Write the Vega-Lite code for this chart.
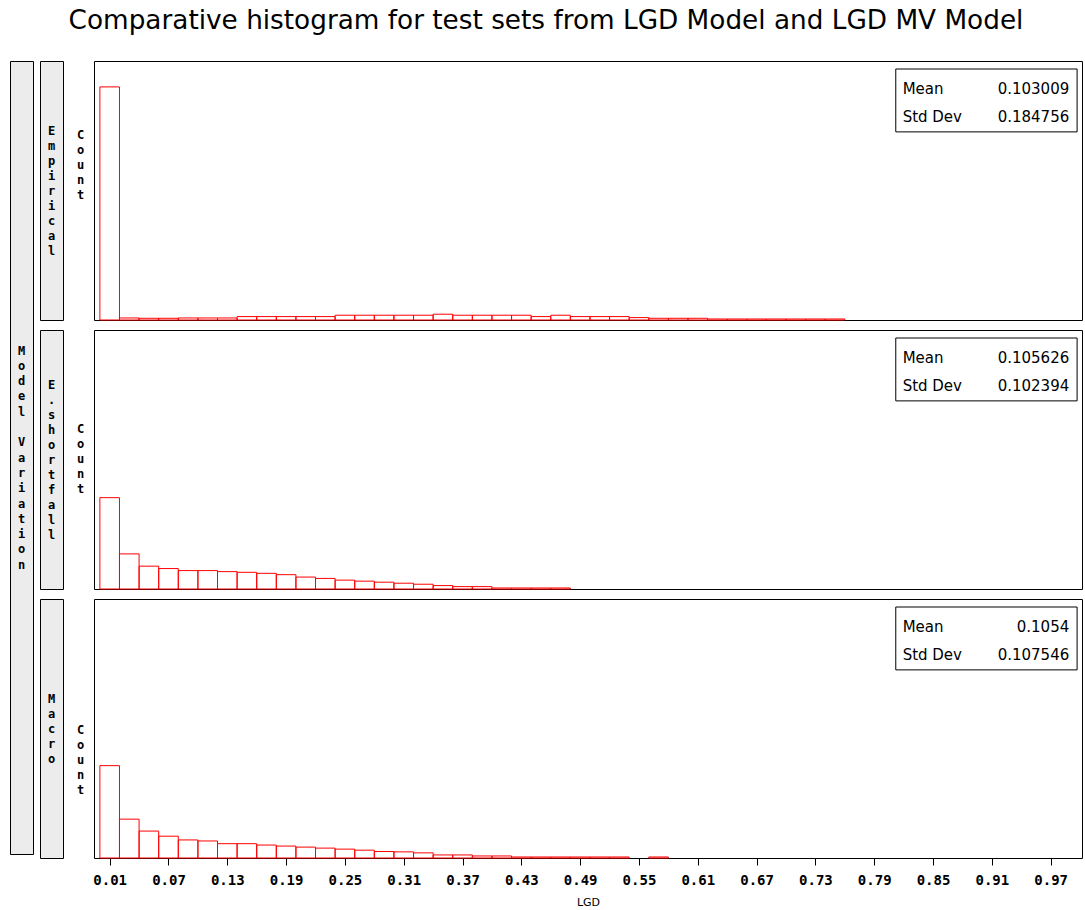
{
  "$schema": "https://vega.github.io/schema/vega-lite/v6.json",
  "padding": {"left": 9, "top": 8, "right": 0, "bottom": 0},
  "background": "white",
  "title": {"text": "Comparative histogram for test sets from LGD Model and LGD MV Model", "font": "DejaVu Sans", "fontSize": 26.3, "fontWeight": "normal", "color": "#000", "anchor": "middle", "offset": 26},
  "datasets": {
    "stats": [
      {"model": "Empirical", "mean": "0.103009", "sd": "0.184756"},
      {"model": "E.shortfall", "mean": "0.105626", "sd": "0.102394"},
      {"model": "Macro", "mean": "0.1054", "sd": "0.107546"}
    ],
    "outer": [{"label": "Model Variation"}],
    "hist": [
      {"model": "Empirical", "lo": 0.00, "hi": 0.02, "pct": 68.4},
      {"model": "Empirical", "lo": 0.02, "hi": 0.04, "pct": 0.6},
      {"model": "Empirical", "lo": 0.04, "hi": 0.06, "pct": 0.5},
      {"model": "Empirical", "lo": 0.06, "hi": 0.08, "pct": 0.5},
      {"model": "Empirical", "lo": 0.08, "hi": 0.10, "pct": 0.6},
      {"model": "Empirical", "lo": 0.10, "hi": 0.12, "pct": 0.6},
      {"model": "Empirical", "lo": 0.12, "hi": 0.14, "pct": 0.6},
      {"model": "Empirical", "lo": 0.14, "hi": 0.16, "pct": 1.0},
      {"model": "Empirical", "lo": 0.16, "hi": 0.18, "pct": 1.0},
      {"model": "Empirical", "lo": 0.18, "hi": 0.20, "pct": 1.0},
      {"model": "Empirical", "lo": 0.20, "hi": 0.22, "pct": 1.0},
      {"model": "Empirical", "lo": 0.22, "hi": 0.24, "pct": 1.0},
      {"model": "Empirical", "lo": 0.24, "hi": 0.26, "pct": 1.4},
      {"model": "Empirical", "lo": 0.26, "hi": 0.28, "pct": 1.4},
      {"model": "Empirical", "lo": 0.28, "hi": 0.30, "pct": 1.4},
      {"model": "Empirical", "lo": 0.30, "hi": 0.32, "pct": 1.4},
      {"model": "Empirical", "lo": 0.32, "hi": 0.34, "pct": 1.4},
      {"model": "Empirical", "lo": 0.34, "hi": 0.36, "pct": 1.7},
      {"model": "Empirical", "lo": 0.36, "hi": 0.38, "pct": 1.4},
      {"model": "Empirical", "lo": 0.38, "hi": 0.40, "pct": 1.4},
      {"model": "Empirical", "lo": 0.40, "hi": 0.42, "pct": 1.4},
      {"model": "Empirical", "lo": 0.42, "hi": 0.44, "pct": 1.4},
      {"model": "Empirical", "lo": 0.44, "hi": 0.46, "pct": 1.0},
      {"model": "Empirical", "lo": 0.46, "hi": 0.48, "pct": 1.4},
      {"model": "Empirical", "lo": 0.48, "hi": 0.50, "pct": 1.0},
      {"model": "Empirical", "lo": 0.50, "hi": 0.52, "pct": 1.0},
      {"model": "Empirical", "lo": 0.52, "hi": 0.54, "pct": 1.0},
      {"model": "Empirical", "lo": 0.54, "hi": 0.56, "pct": 0.7},
      {"model": "Empirical", "lo": 0.56, "hi": 0.58, "pct": 0.5},
      {"model": "Empirical", "lo": 0.58, "hi": 0.60, "pct": 0.5},
      {"model": "Empirical", "lo": 0.60, "hi": 0.62, "pct": 0.5},
      {"model": "Empirical", "lo": 0.62, "hi": 0.64, "pct": 0.3},
      {"model": "Empirical", "lo": 0.64, "hi": 0.66, "pct": 0.3},
      {"model": "Empirical", "lo": 0.66, "hi": 0.68, "pct": 0.3},
      {"model": "Empirical", "lo": 0.68, "hi": 0.70, "pct": 0.3},
      {"model": "Empirical", "lo": 0.70, "hi": 0.72, "pct": 0.3},
      {"model": "Empirical", "lo": 0.72, "hi": 0.74, "pct": 0.3},
      {"model": "Empirical", "lo": 0.74, "hi": 0.76, "pct": 0.3},
      {"model": "E.shortfall", "lo": 0.00, "hi": 0.02, "pct": 26.8},
      {"model": "E.shortfall", "lo": 0.02, "hi": 0.04, "pct": 10.3},
      {"model": "E.shortfall", "lo": 0.04, "hi": 0.06, "pct": 6.7},
      {"model": "E.shortfall", "lo": 0.06, "hi": 0.08, "pct": 6.0},
      {"model": "E.shortfall", "lo": 0.08, "hi": 0.10, "pct": 5.4},
      {"model": "E.shortfall", "lo": 0.10, "hi": 0.12, "pct": 5.4},
      {"model": "E.shortfall", "lo": 0.12, "hi": 0.14, "pct": 5.1},
      {"model": "E.shortfall", "lo": 0.14, "hi": 0.16, "pct": 4.9},
      {"model": "E.shortfall", "lo": 0.16, "hi": 0.18, "pct": 4.6},
      {"model": "E.shortfall", "lo": 0.18, "hi": 0.20, "pct": 4.2},
      {"model": "E.shortfall", "lo": 0.20, "hi": 0.22, "pct": 3.5},
      {"model": "E.shortfall", "lo": 0.22, "hi": 0.24, "pct": 3.1},
      {"model": "E.shortfall", "lo": 0.24, "hi": 0.26, "pct": 2.6},
      {"model": "E.shortfall", "lo": 0.26, "hi": 0.28, "pct": 2.3},
      {"model": "E.shortfall", "lo": 0.28, "hi": 0.30, "pct": 2.0},
      {"model": "E.shortfall", "lo": 0.30, "hi": 0.32, "pct": 1.7},
      {"model": "E.shortfall", "lo": 0.32, "hi": 0.34, "pct": 1.4},
      {"model": "E.shortfall", "lo": 0.34, "hi": 0.36, "pct": 1.0},
      {"model": "E.shortfall", "lo": 0.36, "hi": 0.38, "pct": 0.7},
      {"model": "E.shortfall", "lo": 0.38, "hi": 0.40, "pct": 0.7},
      {"model": "E.shortfall", "lo": 0.40, "hi": 0.42, "pct": 0.3},
      {"model": "E.shortfall", "lo": 0.42, "hi": 0.44, "pct": 0.3},
      {"model": "E.shortfall", "lo": 0.44, "hi": 0.46, "pct": 0.3},
      {"model": "E.shortfall", "lo": 0.46, "hi": 0.48, "pct": 0.3},
      {"model": "Macro", "lo": 0.00, "hi": 0.02, "pct": 27.1},
      {"model": "Macro", "lo": 0.02, "hi": 0.04, "pct": 11.4},
      {"model": "Macro", "lo": 0.04, "hi": 0.06, "pct": 7.9},
      {"model": "Macro", "lo": 0.06, "hi": 0.08, "pct": 6.4},
      {"model": "Macro", "lo": 0.08, "hi": 0.10, "pct": 5.3},
      {"model": "Macro", "lo": 0.10, "hi": 0.12, "pct": 5.0},
      {"model": "Macro", "lo": 0.12, "hi": 0.14, "pct": 4.2},
      {"model": "Macro", "lo": 0.14, "hi": 0.16, "pct": 4.2},
      {"model": "Macro", "lo": 0.16, "hi": 0.18, "pct": 3.8},
      {"model": "Macro", "lo": 0.18, "hi": 0.20, "pct": 3.5},
      {"model": "Macro", "lo": 0.20, "hi": 0.22, "pct": 3.2},
      {"model": "Macro", "lo": 0.22, "hi": 0.24, "pct": 2.9},
      {"model": "Macro", "lo": 0.24, "hi": 0.26, "pct": 2.6},
      {"model": "Macro", "lo": 0.26, "hi": 0.28, "pct": 2.3},
      {"model": "Macro", "lo": 0.28, "hi": 0.30, "pct": 1.9},
      {"model": "Macro", "lo": 0.30, "hi": 0.32, "pct": 1.8},
      {"model": "Macro", "lo": 0.32, "hi": 0.34, "pct": 1.5},
      {"model": "Macro", "lo": 0.34, "hi": 0.36, "pct": 0.9},
      {"model": "Macro", "lo": 0.36, "hi": 0.38, "pct": 0.9},
      {"model": "Macro", "lo": 0.38, "hi": 0.40, "pct": 0.6},
      {"model": "Macro", "lo": 0.40, "hi": 0.42, "pct": 0.6},
      {"model": "Macro", "lo": 0.42, "hi": 0.44, "pct": 0.3},
      {"model": "Macro", "lo": 0.44, "hi": 0.46, "pct": 0.3},
      {"model": "Macro", "lo": 0.46, "hi": 0.48, "pct": 0.3},
      {"model": "Macro", "lo": 0.48, "hi": 0.50, "pct": 0.3},
      {"model": "Macro", "lo": 0.50, "hi": 0.52, "pct": 0.3},
      {"model": "Macro", "lo": 0.52, "hi": 0.54, "pct": 0.3},
      {"model": "Macro", "lo": 0.56, "hi": 0.58, "pct": 0.3}
    ]
  },
  "spacing": 5,
  "hconcat": [
    {
      "width": 23, "height": 793,
      "view": {"fill": "#ececec", "stroke": "#000", "strokeWidth": 1},
      "data": {"name": "outer"},
      "transform": [{"calculate": "split(replace(datum.label, ' ', '\u200b'), '')", "as": "letters"}],
      "mark": {"type": "text", "font": "DejaVu Sans Mono", "fontWeight": "bold", "fontSize": 12, "lineHeight": 15.3, "align": "center", "baseline": "middle", "dy": -107, "color": "#000"},
      "encoding": {"text": {"field": "letters", "type": "nominal"}}
    },
    {
      "spacing": 8,
      "vconcat": [
        {
          "bounds": "flush", "spacing": 31,
          "hconcat": [
            {
              "width": 23, "height": 259,
              "view": {"fill": "#ececec", "stroke": "#000", "strokeWidth": 1},
              "data": {"name": "stats"},
              "transform": [{"filter": "datum.model == 'Empirical'"}, {"calculate": "split(datum.model, '')", "as": "letters"}],
              "mark": {"type": "text", "font": "DejaVu Sans Mono", "fontWeight": "bold", "fontSize": 12, "lineHeight": 15, "align": "center", "baseline": "middle", "dy": -60, "color": "#000"},
              "encoding": {"text": {"field": "letters", "type": "nominal"}}
            },
            {
              "width": 988, "height": 259,
              "layer": [
                {
                  "data": {"name": "hist"},
                  "transform": [{"filter": "datum.model == 'Empirical'"}],
                  "mark": {"type": "rect", "fill": "transparent", "stroke": "#ff0000", "strokeWidth": 1},
                  "encoding": {
                    "x": {"field": "lo", "type": "quantitative", "scale": {"domain": [-0.006, 1.002], "nice": false, "zero": false}, "axis": null},
                    "x2": {"field": "hi"},
                    "y": {"field": "pct", "type": "quantitative", "scale": {"domain": [0, 76], "nice": false}, "axis": {"title": ["C", "o", "u", "n", "t"], "titleAngle": 0, "titleAlign": "center", "titleBaseline": "middle", "titleX": -14, "titleY": 73, "titleFont": "DejaVu Sans Mono", "titleFontWeight": "bold", "titleFontSize": 12, "titleLineHeight": 15, "titleColor": "#000", "labels": false, "ticks": false, "domain": false, "grid": false}},
                    "y2": {"datum": 0}
                  }
                },
                {
                  "data": {"name": "stats"},
                  "transform": [{"filter": "datum.model == 'Empirical'"}],
                  "mark": {"type": "rect", "fill": "white", "stroke": "#000", "strokeWidth": 1},
                  "encoding": {"x": {"datum": 0.812}, "x2": {"datum": 0.997}, "y": {"datum": 73.65}, "y2": {"datum": 55.2}}
                },
                {
                  "data": {"name": "stats"},
                  "transform": [{"filter": "datum.model == 'Empirical'"}],
                  "mark": {"type": "text", "font": "DejaVu Sans", "fontSize": 15, "align": "left", "baseline": "middle", "color": "#000"},
                  "encoding": {"x": {"datum": 0.819}, "y": {"datum": 67.8}, "text": {"value": "Mean"}}
                },
                {
                  "data": {"name": "stats"},
                  "transform": [{"filter": "datum.model == 'Empirical'"}],
                  "mark": {"type": "text", "font": "DejaVu Sans", "fontSize": 15, "align": "right", "baseline": "middle", "color": "#000"},
                  "encoding": {"x": {"datum": 0.989}, "y": {"datum": 67.8}, "text": {"field": "mean", "type": "nominal"}}
                },
                {
                  "data": {"name": "stats"},
                  "transform": [{"filter": "datum.model == 'Empirical'"}],
                  "mark": {"type": "text", "font": "DejaVu Sans", "fontSize": 15, "align": "left", "baseline": "middle", "color": "#000"},
                  "encoding": {"x": {"datum": 0.819}, "y": {"datum": 59.6}, "text": {"value": "Std Dev"}}
                },
                {
                  "data": {"name": "stats"},
                  "transform": [{"filter": "datum.model == 'Empirical'"}],
                  "mark": {"type": "text", "font": "DejaVu Sans", "fontSize": 15, "align": "right", "baseline": "middle", "color": "#000"},
                  "encoding": {"x": {"datum": 0.989}, "y": {"datum": 59.6}, "text": {"field": "sd", "type": "nominal"}}
                }
              ]
            }
          ]
        },
        {
          "bounds": "flush", "spacing": 31,
          "hconcat": [
            {
              "width": 23, "height": 259,
              "view": {"fill": "#ececec", "stroke": "#000", "strokeWidth": 1},
              "data": {"name": "stats"},
              "transform": [{"filter": "datum.model == 'E.shortfall'"}, {"calculate": "split(datum.model, '')", "as": "letters"}],
              "mark": {"type": "text", "font": "DejaVu Sans Mono", "fontWeight": "bold", "fontSize": 12, "lineHeight": 15, "align": "center", "baseline": "middle", "dy": -75, "color": "#000"},
              "encoding": {"text": {"field": "letters", "type": "nominal"}}
            },
            {
              "width": 988, "height": 259,
              "layer": [
                {
                  "data": {"name": "hist"},
                  "transform": [{"filter": "datum.model == 'E.shortfall'"}],
                  "mark": {"type": "rect", "fill": "transparent", "stroke": "#ff0000", "strokeWidth": 1},
                  "encoding": {
                    "x": {"field": "lo", "type": "quantitative", "scale": {"domain": [-0.006, 1.002], "nice": false, "zero": false}, "axis": null},
                    "x2": {"field": "hi"},
                    "y": {"field": "pct", "type": "quantitative", "scale": {"domain": [0, 76], "nice": false}, "axis": {"title": ["C", "o", "u", "n", "t"], "titleAngle": 0, "titleAlign": "center", "titleBaseline": "middle", "titleX": -14, "titleY": 98, "titleFont": "DejaVu Sans Mono", "titleFontWeight": "bold", "titleFontSize": 12, "titleLineHeight": 15, "titleColor": "#000", "labels": false, "ticks": false, "domain": false, "grid": false}},
                    "y2": {"datum": 0}
                  }
                },
                {
                  "data": {"name": "stats"},
                  "transform": [{"filter": "datum.model == 'E.shortfall'"}],
                  "mark": {"type": "rect", "fill": "white", "stroke": "#000", "strokeWidth": 1},
                  "encoding": {"x": {"datum": 0.812}, "x2": {"datum": 0.997}, "y": {"datum": 73.65}, "y2": {"datum": 55.2}}
                },
                {
                  "data": {"name": "stats"},
                  "transform": [{"filter": "datum.model == 'E.shortfall'"}],
                  "mark": {"type": "text", "font": "DejaVu Sans", "fontSize": 15, "align": "left", "baseline": "middle", "color": "#000"},
                  "encoding": {"x": {"datum": 0.819}, "y": {"datum": 67.8}, "text": {"value": "Mean"}}
                },
                {
                  "data": {"name": "stats"},
                  "transform": [{"filter": "datum.model == 'E.shortfall'"}],
                  "mark": {"type": "text", "font": "DejaVu Sans", "fontSize": 15, "align": "right", "baseline": "middle", "color": "#000"},
                  "encoding": {"x": {"datum": 0.989}, "y": {"datum": 67.8}, "text": {"field": "mean", "type": "nominal"}}
                },
                {
                  "data": {"name": "stats"},
                  "transform": [{"filter": "datum.model == 'E.shortfall'"}],
                  "mark": {"type": "text", "font": "DejaVu Sans", "fontSize": 15, "align": "left", "baseline": "middle", "color": "#000"},
                  "encoding": {"x": {"datum": 0.819}, "y": {"datum": 59.6}, "text": {"value": "Std Dev"}}
                },
                {
                  "data": {"name": "stats"},
                  "transform": [{"filter": "datum.model == 'E.shortfall'"}],
                  "mark": {"type": "text", "font": "DejaVu Sans", "fontSize": 15, "align": "right", "baseline": "middle", "color": "#000"},
                  "encoding": {"x": {"datum": 0.989}, "y": {"datum": 59.6}, "text": {"field": "sd", "type": "nominal"}}
                }
              ]
            }
          ]
        },
        {
          "bounds": "flush", "spacing": 31,
          "hconcat": [
            {
              "width": 23, "height": 259,
              "view": {"fill": "#ececec", "stroke": "#000", "strokeWidth": 1},
              "data": {"name": "stats"},
              "transform": [{"filter": "datum.model == 'Macro'"}, {"calculate": "split(datum.model, '')", "as": "letters"}],
              "mark": {"type": "text", "font": "DejaVu Sans Mono", "fontWeight": "bold", "fontSize": 12, "lineHeight": 15, "align": "center", "baseline": "middle", "dy": -30, "color": "#000"},
              "encoding": {"text": {"field": "letters", "type": "nominal"}}
            },
            {
              "width": 988, "height": 259,
              "layer": [
                {
                  "data": {"name": "hist"},
                  "transform": [{"filter": "datum.model == 'Macro'"}],
                  "mark": {"type": "rect", "fill": "transparent", "stroke": "#ff0000", "strokeWidth": 1},
                  "encoding": {
                    "x": {"field": "lo", "type": "quantitative", "scale": {"domain": [-0.006, 1.002], "nice": false, "zero": false}, "axis": {"values": [0.01, 0.07, 0.13, 0.19, 0.25, 0.31, 0.37, 0.43, 0.49, 0.55, 0.61, 0.67, 0.73, 0.79, 0.85, 0.91, 0.97], "format": ".2f", "title": "LGD", "domain": false, "grid": false, "tickSize": 7, "tickColor": "#000", "labelFont": "DejaVu Sans Mono", "labelFontWeight": "bold", "labelFontSize": 14, "labelColor": "#000", "labelPadding": 8, "labelFlush": false, "labelOverlap": false, "titleFont": "DejaVu Sans", "titleFontSize": 11, "titleFontWeight": "normal", "titleColor": "#000", "titlePadding": 9}},
                    "x2": {"field": "hi"},
                    "y": {"field": "pct", "type": "quantitative", "scale": {"domain": [0, 76], "nice": false}, "axis": {"title": ["C", "o", "u", "n", "t"], "titleAngle": 0, "titleAlign": "center", "titleBaseline": "middle", "titleX": -14, "titleY": 130, "titleFont": "DejaVu Sans Mono", "titleFontWeight": "bold", "titleFontSize": 12, "titleLineHeight": 15, "titleColor": "#000", "labels": false, "ticks": false, "domain": false, "grid": false}},
                    "y2": {"datum": 0}
                  }
                },
                {
                  "data": {"name": "stats"},
                  "transform": [{"filter": "datum.model == 'Macro'"}],
                  "mark": {"type": "rect", "fill": "white", "stroke": "#000", "strokeWidth": 1},
                  "encoding": {"x": {"datum": 0.812}, "x2": {"datum": 0.997}, "y": {"datum": 73.65}, "y2": {"datum": 55.2}}
                },
                {
                  "data": {"name": "stats"},
                  "transform": [{"filter": "datum.model == 'Macro'"}],
                  "mark": {"type": "text", "font": "DejaVu Sans", "fontSize": 15, "align": "left", "baseline": "middle", "color": "#000"},
                  "encoding": {"x": {"datum": 0.819}, "y": {"datum": 67.8}, "text": {"value": "Mean"}}
                },
                {
                  "data": {"name": "stats"},
                  "transform": [{"filter": "datum.model == 'Macro'"}],
                  "mark": {"type": "text", "font": "DejaVu Sans", "fontSize": 15, "align": "right", "baseline": "middle", "color": "#000"},
                  "encoding": {"x": {"datum": 0.989}, "y": {"datum": 67.8}, "text": {"field": "mean", "type": "nominal"}}
                },
                {
                  "data": {"name": "stats"},
                  "transform": [{"filter": "datum.model == 'Macro'"}],
                  "mark": {"type": "text", "font": "DejaVu Sans", "fontSize": 15, "align": "left", "baseline": "middle", "color": "#000"},
                  "encoding": {"x": {"datum": 0.819}, "y": {"datum": 59.6}, "text": {"value": "Std Dev"}}
                },
                {
                  "data": {"name": "stats"},
                  "transform": [{"filter": "datum.model == 'Macro'"}],
                  "mark": {"type": "text", "font": "DejaVu Sans", "fontSize": 15, "align": "right", "baseline": "middle", "color": "#000"},
                  "encoding": {"x": {"datum": 0.989}, "y": {"datum": 59.6}, "text": {"field": "sd", "type": "nominal"}}
                }
              ]
            }
          ]
        }
      ]
    }
  ],
  "config": {"view": {"stroke": "#000", "strokeWidth": 1}}
}
